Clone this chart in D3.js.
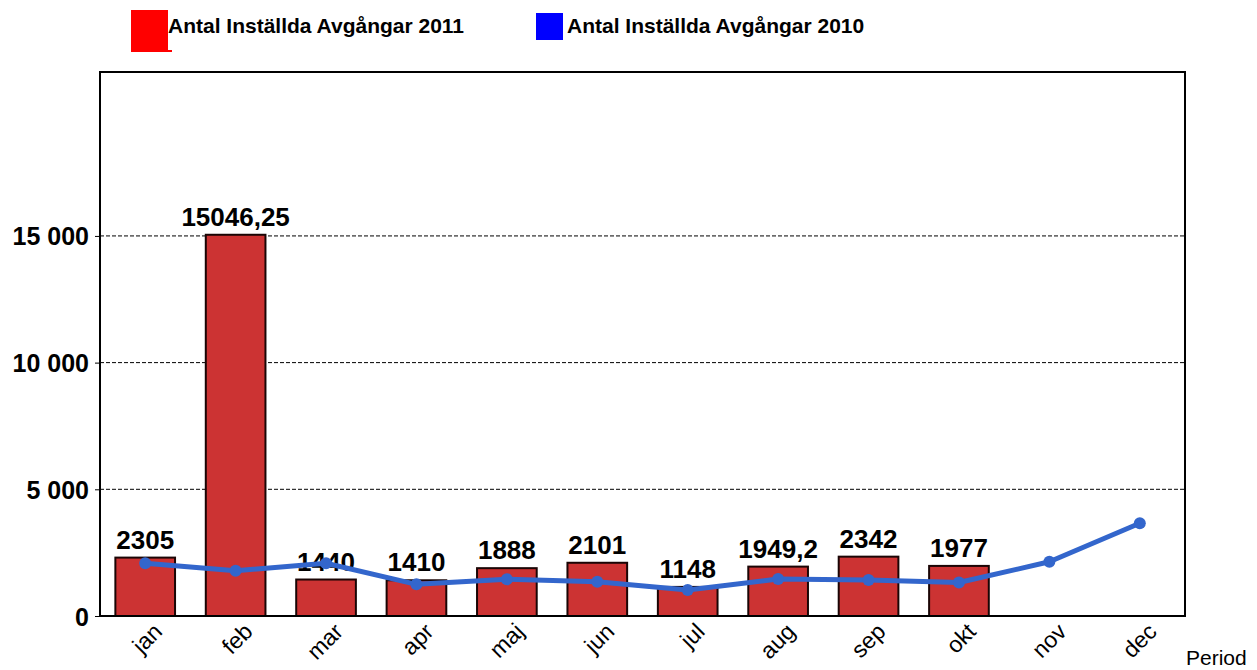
<!DOCTYPE html>
<html>
<head>
<meta charset="utf-8">
<script src="https://cdn.jsdelivr.net/npm/d3@7"></script>
<style>
  body { margin: 0; background: #fff; }
  text { font-family: "Liberation Sans", Arial, sans-serif; }
</style>
</head>
<body>
<div id="chart"></div>
<script>
// data
var months = ["jan", "feb", "mar", "apr", "maj", "jun", "jul", "aug", "sep", "okt", "nov", "dec"];
var values2011 = [2305, 15046.25, 1440, 1410, 1888, 2101, 1148, 1949.2, 2342, 1977];
var labels2011 = ["2305", "15046,25", "1440", "1410", "1888", "2101", "1148", "1949,2", "2342", "1977"];
var values2010 = [2080, 1790, 2080, 1250, 1450, 1355, 1030, 1460, 1420, 1320, 2140, 3660];
var yTicks = [0, 5000, 10000, 15000];
var yTickLabels = ["0", "5 000", "10 000", "15 000"];

var svgWidth = 1257, svgHeight = 670;
var margin = { top: 72, right: 72, bottom: 54, left: 100 };
var width = svgWidth - margin.left - margin.right;
var height = svgHeight - margin.top - margin.bottom;

var svg = d3.select("#chart").append("svg")
  .attr("width", svgWidth)
  .attr("height", svgHeight);

var chart = svg.append("g")
  .attr("transform", `translate(${margin.left}, ${margin.top})`);

var x = d3.scaleBand().domain(months).range([0, width]).paddingInner(0.34).paddingOuter(0.17);
var y = d3.scaleLinear().domain([0, 21470]).range([height, 0]);

// grid lines
chart.selectAll("line.grid")
  .data(yTicks.filter(d => d > 0))
  .enter().append("line")
  .attr("class", "grid")
  .attr("x1", 0).attr("x2", width)
  .attr("y1", d => y(d)).attr("y2", d => y(d))
  .attr("stroke", "#000")
  .attr("stroke-width", 1)
  .attr("stroke-dasharray", "4,2");

// y axis
var yAxis = d3.axisLeft(y).tickValues(yTicks).tickSize(5)
  .tickFormat((d, i) => yTickLabels[i]);
var yg = chart.append("g").call(yAxis);
yg.select(".domain").remove();
yg.selectAll("line").attr("stroke", "#000");
yg.selectAll("text")
  .attr("x", -11)
  .attr("dy", "0.36em")
  .style("font-size", "25px")
  .style("font-weight", "bold")
  .attr("fill", "#000");

// x axis
var xAxis = d3.axisBottom(x).tickSize(0);
var xg = chart.append("g")
  .attr("transform", `translate(0, ${height})`)
  .call(xAxis);
xg.select(".domain").remove();
xg.selectAll("text")
  .attr("transform", "rotate(-45)")
  .attr("text-anchor", "end")
  .attr("x", 1)
  .attr("y", 17)
  .attr("dy", "0.35em")
  .style("font-size", "23px")
  .attr("fill", "#000");

// bars
chart.selectAll("rect.bar")
  .data(values2011)
  .enter().append("rect")
  .attr("class", "bar")
  .attr("x", (d, i) => x(months[i]))
  .attr("y", d => y(d))
  .attr("width", x.bandwidth())
  .attr("height", d => height - y(d))
  .attr("fill", "#cc3333")
  .attr("stroke", "#1a0505")
  .attr("stroke-width", 2);

// bar value labels
chart.selectAll("text.val")
  .data(values2011)
  .enter().append("text")
  .attr("class", "val")
  .attr("x", (d, i) => x(months[i]) + x.bandwidth() / 2)
  .attr("y", d => y(d) - 9)
  .attr("text-anchor", "middle")
  .style("font-size", "26px")
  .style("font-weight", "bold")
  .text((d, i) => labels2011[i]);

// 2010 line
var line = d3.line()
  .x((d, i) => x(months[i]) + x.bandwidth() / 2)
  .y(d => y(d));

chart.append("path")
  .datum(values2010)
  .attr("d", line)
  .attr("fill", "none")
  .attr("stroke", "#3366cc")
  .attr("stroke-width", 5)
  .attr("stroke-linejoin", "round");

chart.selectAll("circle.pt")
  .data(values2010)
  .enter().append("circle")
  .attr("class", "pt")
  .attr("cx", (d, i) => x(months[i]) + x.bandwidth() / 2)
  .attr("cy", d => y(d))
  .attr("r", 6)
  .attr("fill", "#3366cc");

// frame
chart.append("rect")
  .attr("width", width)
  .attr("height", height)
  .attr("fill", "none")
  .attr("stroke", "#000")
  .attr("stroke-width", 2);

// x axis title
svg.append("text")
  .attr("x", 1186)
  .attr("y", 665)
  .style("font-size", "21px")
  .text("Period");

// legend
svg.append("rect").attr("x", 131).attr("y", 10).attr("width", 37).attr("height", 42).attr("fill", "#ff0000");
svg.append("rect").attr("x", 131).attr("y", 50).attr("width", 41).attr("height", 2).attr("fill", "#ff0000");
svg.append("text").attr("x", 168).attr("y", 33)
  .style("font-size", "21px").style("font-weight", "bold")
  .text("Antal Inställda Avgångar 2011");

svg.append("rect").attr("x", 536).attr("y", 13).attr("width", 27).attr("height", 27).attr("fill", "#0000ff");
svg.append("text").attr("x", 567).attr("y", 33)
  .style("font-size", "21px").style("font-weight", "bold")
  .text("Antal Inställda Avgångar 2010");
</script>
</body>
</html>
